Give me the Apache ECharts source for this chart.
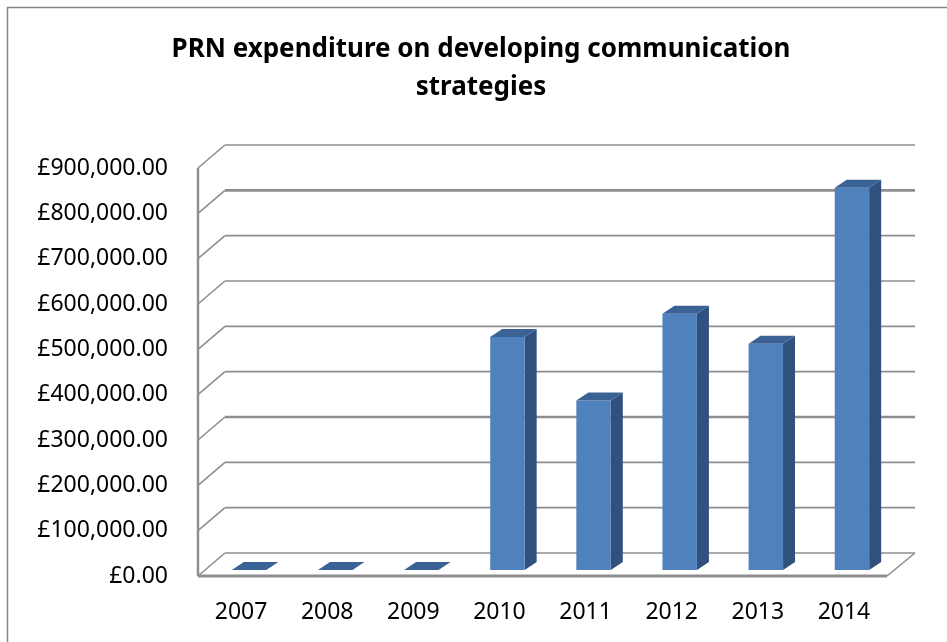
<!DOCTYPE html>
<html>
<head>
<meta charset="utf-8">
<script src="https://cdn.jsdelivr.net/npm/echarts@6/dist/echarts.min.js"></script>
<style>
html,body{margin:0;padding:0;background:#fff;}
#chart{width:947px;height:642px;}
</style>
</head>
<body>
<div id="chart"></div>
<script>
// ---- data ----
const titleText = 'PRN expenditure on developing communication\nstrategies';
const categories = ['2007', '2008', '2009', '2010', '2011', '2012', '2013', '2014'];
const values = [0, 0, 0, 514000, 374000, 565000, 499000, 843000];
const yTicks = [0, 100000, 200000, 300000, 400000, 500000, 600000, 700000, 800000, 900000];
const boldTicks = [300000, 800000];

// ---- 3D look constants ----
const DEPTH_X = 27, DEPTH_Y = -23;      // floor / wall depth
const BAR_OFF_X = 8, BAR_OFF_Y = -6;    // bar front face offset from floor front
const BAR_D_X = 12, BAR_D_Y = -8;       // bar depth
const BAR_W = 0.4;                       // fraction of band
const GRID_COLOR = '#8e8e8e';

function fmtMoney(v) {
  return '£' + v.toLocaleString('en-GB', {minimumFractionDigits: 2, maximumFractionDigits: 2});
}

const chart = echarts.init(document.getElementById('chart'));

const option = {
  animation: false,
  backgroundColor: '#fff',
  graphic: [
    {
      type: 'rect', z: 0,
      shape: {x: 7.5, y: 7.5, width: 1000, height: 700},
      style: {fill: '#fff', stroke: '#868686', lineWidth: 1.5}
    },
    {
      type: 'text', z: 10,
      x: 481, y: 31,
      style: {
        text: titleText,
        align: 'center', verticalAlign: 'top',
        font: 'bold 26px "Noto Sans"',
        lineHeight: 38,
        fill: '#000'
      }
    }
  ],
  grid: {left: 198, right: 60, top: 168, bottom: 66, containLabel: false},
  xAxis: {
    type: 'category',
    data: categories,
    axisLine: {show: false},
    axisTick: {show: false},
    axisLabel: {margin: 25, color: '#000', fontSize: 23, fontFamily: 'Noto Sans'},
    splitLine: {show: false}
  },
  yAxis: {
    type: 'value',
    min: 0, max: 900000, interval: 100000,
    axisLine: {show: false},
    axisTick: {show: false},
    splitLine: {show: false},
    axisLabel: {
      margin: 30, color: '#000', fontSize: 23, fontFamily: 'Noto Sans',
      formatter: fmtMoney
    }
  },
  series: [
    {
      type: 'custom',
      z: 1,
      data: [[0, 0]],
      silent: true,
      renderItem: function (params, api) {
        const cs = params.coordSys;
        const x0 = cs.x, x1 = cs.x + cs.width;
        const children = [];
        yTicks.forEach(function (t) {
          const y = api.coord([0, t])[1];
          const w = boldTicks.indexOf(t) >= 0 ? 2.6 : 1.6;
          children.push({
            type: 'line',
            shape: {x1: x0 + DEPTH_X, y1: y + DEPTH_Y, x2: x1 + DEPTH_X + 1, y2: y + DEPTH_Y},
            style: {stroke: GRID_COLOR, lineWidth: w}
          });
          children.push({
            type: 'line',
            shape: {x1: x0, y1: y, x2: x0 + DEPTH_X, y2: y + DEPTH_Y},
            style: {stroke: GRID_COLOR, lineWidth: 1.6}
          });
        });
        const yBot = api.coord([0, 0])[1];
        const yTop = api.coord([0, yTicks[yTicks.length - 1]])[1];
        children.push({
          type: 'line',
          shape: {x1: x0, y1: yTop, x2: x0, y2: yBot},
          style: {stroke: GRID_COLOR, lineWidth: 2.4}
        });
        children.push({
          type: 'line',
          shape: {x1: x0, y1: yBot, x2: x1, y2: yBot},
          style: {stroke: GRID_COLOR, lineWidth: 2.8}
        });
        children.push({
          type: 'line',
          shape: {x1: x1, y1: yBot, x2: x1 + DEPTH_X + 1, y2: yBot + DEPTH_Y},
          style: {stroke: GRID_COLOR, lineWidth: 1.6}
        });
        return {type: 'group', children: children};
      }
    },
    {
      type: 'custom',
      z: 3,
      data: values.map(function (v, i) { return [i, v]; }),
      encode: {x: 0, y: 1},
      renderItem: function (params, api) {
        const idx = api.value(0);
        const val = api.value(1);
        const p0 = api.coord([idx, 0]);
        const p1 = api.coord([idx, val]);
        const band = api.size([1, 0])[0];
        const w = band * BAR_W;
        const cx = p0[0] + BAR_OFF_X;
        const xL = cx - w / 2, xR = cx + w / 2;
        const yB = p0[1] + BAR_OFF_Y;
        const yT = p1[1] + BAR_OFF_Y;
        const children = [];
        if (yB - yT > 0.5) {
          children.push({
            type: 'polygon',
            shape: {points: [[xR, yT], [xR + BAR_D_X, yT + BAR_D_Y], [xR + BAR_D_X, yB + BAR_D_Y], [xR, yB]]},
            style: {fill: '#30517d'}
          });
          children.push({
            type: 'rect',
            shape: {x: xL, y: yT, width: w, height: yB - yT},
            style: {fill: '#4f81bd'}
          });
        }
        children.push({
          type: 'polygon',
          shape: {points: [[xL, yT], [xL + BAR_D_X, yT + BAR_D_Y], [xR + BAR_D_X, yT + BAR_D_Y], [xR, yT]]},
          style: {fill: '#3a6294'}
        });
        return {type: 'group', children: children};
      }
    }
  ]
};

chart.setOption(option);
</script>
</body>
</html>
